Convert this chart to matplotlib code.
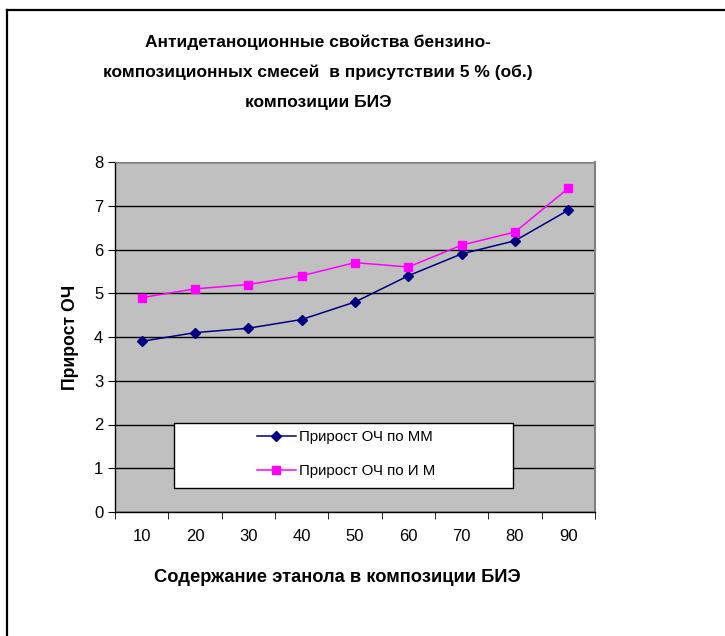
import matplotlib
matplotlib.use('Agg')
import matplotlib.pyplot as plt
from matplotlib.lines import Line2D
from matplotlib.patches import Rectangle

plt.rcParams['font.family'] = ['Liberation Sans', 'DejaVu Sans']

categories = ['10', '20', '30', '40', '50', '60', '70', '80', '90']
mm_gain = [3.9, 4.1, 4.2, 4.4, 4.8, 5.4, 5.9, 6.2, 6.9]
im_gain = [4.9, 5.1, 5.2, 5.4, 5.7, 5.6, 6.1, 6.4, 7.4]
labels = ['Прирост ОЧ по ММ', 'Прирост ОЧ по И М']

W, H = 725, 636
fig = plt.figure(figsize=(W / 100, H / 100), dpi=100)
fig.patch.set_facecolor('white')

# plot area in pixels: left 115, right 595, top 162, bottom 512
ax = fig.add_axes([115 / W, 1 - 512 / H, 480 / W, 350 / H])
ax.set_facecolor('#c0c0c0')

x = list(range(len(categories)))
ax.plot(x, mm_gain, color='#000080', marker='D', markersize=5.5, lw=1.1, label=labels[0])
ax.plot(x, im_gain, color='#ff00ff', marker='s', markersize=6, lw=1.1, label=labels[1])

ax.set_xlim(-0.5, len(categories) - 0.5)
ax.set_ylim(0, 8)
ax.set_yticks(range(0, 9))
ax.yaxis.grid(True, color='black', lw=1)
ax.set_axisbelow(True)
ax.set_xticks(x)
ax.set_xticklabels(categories)
ax.set_xticks([i + 0.5 for i in range(-1, len(categories))], minor=True)
ax.tick_params(axis='x', which='major', length=0, pad=12.5, labelsize=12)
ax.tick_params(axis='x', which='minor', length=5, direction='out', color='black')
ax.tick_params(axis='y', length=5, direction='out', labelsize=12, pad=3.5)

for s in ['left', 'bottom']:
    ax.spines[s].set_color('black')
    ax.spines[s].set_linewidth(1)
ax.spines['top'].set_color('#808080')
ax.spines['right'].set_color('#808080')
ax.spines['right'].set_linewidth(1.5)

ax.set_ylabel('Прирост ОЧ', fontsize=12.7, fontweight='bold')
ax.yaxis.set_label_coords(-(115 - 70) / 480, (512 - 337) / 350)
ax.set_xlabel('Содержание этанола в композиции БИЭ', fontsize=13.2, fontweight='bold')
ax.xaxis.set_label_coords((337 - 115) / 480, -(577 - 512) / 350)
ax.xaxis.label.set_va('center')
ax.yaxis.label.set_va('center')

# legend box (pixels 174..513 x 423..488)
box = Rectangle(((174 - 115) / 480, (512 - 488) / 350), (513 - 174) / 480, 65 / 350,
                transform=ax.transAxes, facecolor='white', edgecolor='black', lw=1, zorder=4)
ax.add_patch(box)
leg = ax.legend(loc='center', bbox_to_anchor=((346 - 115) / 480, (512 - 454) / 350),
                frameon=False, fontsize=10.8, handlelength=2.6, handletextpad=0.25,
                labelspacing=1.3, borderaxespad=0, borderpad=0)
leg.set_zorder(5)

title_lines = ['Антидетаноционные свойства бензино-',
               'композиционных смесей  в присутствии 5 % (об.)',
               'композиции БИЭ']
for i, line in enumerate(title_lines):
    fig.text(318 / W, 1 - (42 + 30.5 * i) / H, line, ha='center', va='center',
             fontsize=12.5, fontweight='bold')

# chart border (only top and left visible in the crop)
fig.add_artist(Line2D([6.5 / W, 1], [1 - 10 / H, 1 - 10 / H], color='black', lw=1.6))
fig.add_artist(Line2D([6.5 / W, 6.5 / W], [0, 1 - 10 / H], color='black', lw=1.6))

fig.savefig('out.png', dpi=100)
